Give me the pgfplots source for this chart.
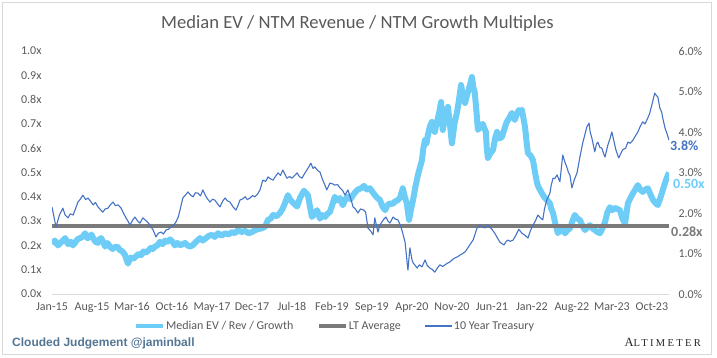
\documentclass[border=0pt]{standalone}
\usepackage{pgfplots}
\pgfplotsset{compat=1.18}
\usepackage{fontspec}
\setmainfont{Carlito}
\newfontfamily\footfont{Liberation Sans}
\newfontfamily\altfont[LetterSpace=22]{Liberation Serif}
\definecolor{lblue}{RGB}{110,205,246}
\definecolor{tblue}{RGB}{68,114,196}
\definecolor{ltgray}{RGB}{122,122,122}
\definecolor{txtgray}{RGB}{89,89,89}
\definecolor{linegray}{RGB}{217,217,217}
\definecolor{footblue}{RGB}{84,118,148}
\begin{document}
\begin{tikzpicture}
\useasboundingbox (0pt,0pt) rectangle (717pt,358pt);
\draw[linegray, line width=0.8pt] (2pt,4pt) rectangle (711pt,356pt);
\node[anchor=base, text=txtgray, font=\fontsize{18.6}{19}\selectfont, inner sep=0pt] at (357.5pt,329pt) {Median EV / NTM Revenue / NTM Growth Multiples};
\begin{axis}[
  at={(52pt,64pt)}, anchor=south west,
  scale only axis, width=617pt, height=243pt,
  xmin=0, xmax=108, ymin=0, ymax=1,
  axis x line*=bottom, axis y line*=left,
  x axis line style={draw=linegray, line width=0.8pt, -},
  y axis line style={draw=none},
  major tick length=0pt,
  xtick={0,7,14,21,28,35,42,49,56,63,70,77,84,91,98,105},
  xticklabels={Jan-15,Aug-15,Mar-16,Oct-16,May-17,Dec-17,Jul-18,Feb-19,Sep-19,Apr-20,Nov-20,Jun-21,Jan-22,Aug-22,Mar-23,Oct-23},
  ytick={0,0.1,0.2,0.3,0.4,0.5,0.6,0.7,0.8,0.9,1.0},
  yticklabel={\pgfmathprintnumber[fixed,fixed zerofill,precision=1]{\tick}x},
  /pgf/number format/assume math mode=true,
  tick label style={font=\fontsize{12}{12}\selectfont, text=txtgray},
  yticklabel style={xshift=-7pt},
  xticklabel style={yshift=-5pt},
]
\addplot[color=lblue, line width=6pt, line join=round] coordinates {
(0,0.206) (0.5,0.22) (1.05,0.20) (1.7,0.215) (2.3,0.23) (2.8,0.205) (3.3,0.215) (3.65,0.2) (4.0,0.21) (4.45,0.225) (4.9,0.23) (5.35,0.235) (5.8,0.25) (6.2,0.23) (6.65,0.235) (6.9,0.245) (7.2,0.23) (7.6,0.215) (8.05,0.21) (8.3,0.225) (8.6,0.23) (8.95,0.215) (9.3,0.195) (9.7,0.21) (10.15,0.195) (10.6,0.185) (11.0,0.193) (11.45,0.195) (11.9,0.18) (12.35,0.175) (12.8,0.16) (13.05,0.14) (13.3,0.125) (13.55,0.14) (13.8,0.15) (14.25,0.145) (14.7,0.155) (15.15,0.165) (15.6,0.16) (16.0,0.175) (16.45,0.17) (16.9,0.18) (17.3,0.19) (17.65,0.185) (18.0,0.195) (18.45,0.2) (18.9,0.215) (19.35,0.205) (19.8,0.22) (20.2,0.215) (20.65,0.225) (21.1,0.215) (21.5,0.20) (21.95,0.21) (22.4,0.20) (22.85,0.205) (23.3,0.21) (23.7,0.2) (24.15,0.195) (24.6,0.2) (25.0,0.21) (25.45,0.22) (25.9,0.23) (26.4,0.22) (26.95,0.23) (27.5,0.24) (28.0,0.243) (28.5,0.235) (29.05,0.25) (29.7,0.24) (30.3,0.25) (30.9,0.245) (31.5,0.255) (32.0,0.25) (32.55,0.263) (33.2,0.255) (33.8,0.26) (34.4,0.25) (35.0,0.255) (35.5,0.262) (36.05,0.267) (36.7,0.27) (37.3,0.277) (37.8,0.305) (38.25,0.31) (38.7,0.325) (39.3,0.32) (39.9,0.333) (40.35,0.35) (40.8,0.375) (41.3,0.407) (41.65,0.39) (42.0,0.38) (42.45,0.37) (42.9,0.36) (43.4,0.395) (43.75,0.41) (44.1,0.425) (44.45,0.415) (44.8,0.407) (45.15,0.36) (45.5,0.317) (45.95,0.33) (46.4,0.345) (46.9,0.31) (47.35,0.325) (47.8,0.317) (48.2,0.33) (48.65,0.338) (49.1,0.37) (49.5,0.40) (49.95,0.385) (50.4,0.395) (50.9,0.365) (51.35,0.39) (51.8,0.40) (52.25,0.39) (52.7,0.407) (53.1,0.42) (53.55,0.43) (54.1,0.435) (54.6,0.445) (55.1,0.43) (55.65,0.435) (56.1,0.42) (56.5,0.407) (56.95,0.395) (57.4,0.387) (57.85,0.36) (58.3,0.345) (58.7,0.365) (59.15,0.373) (59.6,0.37) (60.0,0.38) (60.45,0.385) (60.9,0.395) (61.4,0.435) (61.75,0.4) (62.1,0.373) (62.5,0.305) (62.85,0.35) (63.2,0.387) (63.6,0.44) (64.05,0.49) (64.4,0.52) (64.75,0.55) (65.0,0.6) (65.3,0.634) (65.55,0.62) (65.8,0.655) (66.15,0.69) (66.5,0.708) (66.75,0.68) (67.0,0.667) (67.3,0.7) (67.55,0.724) (67.8,0.75) (68.1,0.79) (68.25,0.72) (68.4,0.675) (68.85,0.73) (69.3,0.77) (69.65,0.7) (70.0,0.62) (70.45,0.7) (70.9,0.749) (71.25,0.8) (71.6,0.86) (71.95,0.81) (72.3,0.786) (72.55,0.81) (72.8,0.83) (73.15,0.86) (73.5,0.893) (73.75,0.85) (74.0,0.83) (74.3,0.75) (74.55,0.675) (75.0,0.69) (75.4,0.70) (75.7,0.68) (75.95,0.667) (76.1,0.6) (76.3,0.56) (76.75,0.58) (77.2,0.593) (77.55,0.64) (77.9,0.667) (78.3,0.64) (78.75,0.646) (79.2,0.68) (79.6,0.708) (80.05,0.725) (80.5,0.745) (80.75,0.73) (81.0,0.716) (81.35,0.74) (81.7,0.757) (82.0,0.745) (82.25,0.757) (82.55,0.72) (82.8,0.687) (83.05,0.63) (83.3,0.58) (83.75,0.57) (84.2,0.55) (84.55,0.5) (84.9,0.457) (85.15,0.44) (85.4,0.43) (85.85,0.41) (86.3,0.395) (86.7,0.385) (87.15,0.373) (87.4,0.35) (87.7,0.333) (88.1,0.29) (88.55,0.25) (88.9,0.265) (89.25,0.277) (89.5,0.26) (89.8,0.25) (90.2,0.262) (90.65,0.27) (91.1,0.3) (91.5,0.325) (91.95,0.31) (92.4,0.305) (92.85,0.28) (93.3,0.263) (93.7,0.275) (94.15,0.283) (94.6,0.27) (95.0,0.263) (95.45,0.255) (95.9,0.25) (96.35,0.27) (96.8,0.296) (97.2,0.335) (97.65,0.357) (98.1,0.345) (98.5,0.354) (98.95,0.35) (99.4,0.345) (99.85,0.31) (100.3,0.29) (100.55,0.33) (100.8,0.373) (101.25,0.395) (101.7,0.415) (102.1,0.43) (102.55,0.448) (102.95,0.43) (103.4,0.42) (103.85,0.43) (104.3,0.435) (104.75,0.41) (105.2,0.387) (105.6,0.375) (106.05,0.366) (106.4,0.39) (106.75,0.415) (107.2,0.45) (107.6,0.477) (108,0.50)
};
\addplot[color=ltgray, line width=4pt] coordinates {(0,0.28) (108,0.28)};
\end{axis}
\begin{axis}[
  at={(52pt,64pt)}, anchor=south west,
  scale only axis, width=617pt, height=243pt,
  xmin=0, xmax=108, ymin=0, ymax=6,
  axis x line=none, axis y line*=right,
  y axis line style={draw=none},
  major tick length=0pt,
  ytick={0,1,2,3,4,5,6},
  yticklabel={\pgfmathprintnumber[fixed,fixed zerofill,precision=1]{\tick}\%},
  /pgf/number format/assume math mode=true,
  tick label style={font=\fontsize{12}{12}\selectfont, text=txtgray},
  yticklabel style={anchor=west, xshift=6pt},
  legend columns=3,
  legend image code/.code={\draw[#1] (0pt,0pt) -- (27pt,0pt);},
  legend style={at={(0.128,-0.1317)}, anchor=west, draw=none, fill=none,
    font=\fontsize{12}{12}\selectfont, text=txtgray,
    /tikz/every odd column/.append style={column sep=-1pt},
    /tikz/every even column/.append style={column sep=22pt}},
]
\addlegendimage{color=lblue, line width=4pt}
\addlegendentry{Median EV / Rev / Growth}
\addlegendimage{color=ltgray, line width=3.5pt}
\addlegendentry{LT Average}
\addplot[color=tblue, line width=1.1pt, line join=round] coordinates {
(0,2.15) (0.35,1.9) (0.7,1.65) (1.3,1.95) (1.9,2.12) (2.3,1.95) (2.8,1.88) (3.2,1.98) (3.7,1.95) (4.1,2.1) (4.55,2.27) (5.0,2.35) (5.4,2.44) (5.9,2.33) (6.3,2.37) (6.8,2.28) (7.2,2.2) (7.6,2.26) (8.05,2.15) (8.5,2.08) (8.9,2.02) (9.3,2.1) (9.8,2.12) (10.2,2.2) (10.7,2.27) (11.1,2.18) (11.55,2.2) (12.1,2.12) (12.5,2.0) (12.95,1.88) (13.3,1.8) (13.65,1.7) (14.1,1.82) (14.5,1.9) (15.0,1.8) (15.4,1.75) (15.9,1.88) (16.3,1.83) (16.7,1.78) (17.15,1.7) (17.7,1.58) (18.2,1.41) (18.6,1.5) (19.1,1.53) (19.5,1.48) (19.95,1.58) (20.4,1.6) (20.8,1.65) (21.3,1.7) (21.7,1.78) (22.1,1.9) (22.4,2.07) (22.9,2.37) (23.4,2.45) (23.8,2.52) (24.2,2.45) (24.7,2.4) (25.1,2.5) (25.55,2.49) (26.0,2.42) (26.4,2.57) (26.8,2.45) (27.1,2.37) (27.65,2.27) (28.1,2.34) (28.5,2.32) (29.0,2.22) (29.4,2.15) (29.9,2.3) (30.3,2.37) (30.7,2.3) (31.15,2.27) (31.7,2.15) (32.2,2.07) (32.6,2.2) (32.9,2.32) (33.4,2.35) (33.8,2.4) (34.2,2.33) (34.65,2.37) (35.1,2.43) (35.5,2.4) (36.0,2.47) (36.4,2.57) (36.9,2.81) (37.4,2.78) (37.8,2.89) (38.3,2.84) (38.7,2.81) (39.1,2.9) (39.55,2.99) (40.0,2.93) (40.4,3.06) (40.8,2.95) (41.1,2.86) (41.6,2.9) (42.0,2.86) (42.5,2.93) (42.9,2.99) (43.3,2.9) (43.75,2.86) (44.2,2.97) (44.6,3.06) (45.0,3.15) (45.3,3.23) (45.7,3.1) (46.0,3.14) (46.5,3.05) (46.9,3.01) (47.4,2.81) (47.8,2.68) (48.1,2.57) (48.65,2.74) (49.1,2.72) (49.5,2.69) (50.0,2.7) (50.4,2.62) (50.9,2.55) (51.3,2.44) (51.8,2.57) (52.2,2.4) (52.7,2.15) (53.1,2.1) (53.55,2.0) (54.0,2.1) (54.6,2.07) (54.9,2.02) (55.3,1.63) (55.8,1.55) (56.2,1.46) (56.5,1.88) (57.05,1.53) (57.4,1.7) (57.75,1.78) (58.1,1.85) (58.45,1.9) (58.8,1.8) (59.15,1.75) (59.7,1.9) (60.1,1.85) (60.55,1.83) (60.9,1.72) (61.25,1.58) (61.8,1.28) (62.3,0.59) (62.65,1.14) (63.0,0.85) (63.2,0.77) (63.6,0.7) (63.9,0.64) (64.3,0.72) (64.75,0.67) (65.3,0.84) (65.7,0.7) (66.15,0.64) (66.6,0.6) (67.0,0.54) (67.5,0.65) (67.9,0.72) (68.4,0.68) (68.8,0.72) (69.2,0.76) (69.65,0.79) (70.1,0.85) (70.5,0.89) (71.0,0.92) (71.4,0.96) (71.9,1.0) (72.3,1.04) (72.8,1.14) (73.3,1.25) (73.7,1.33) (74.1,1.5) (74.4,1.63) (74.9,1.7) (75.3,1.66) (75.8,1.63) (76.2,1.7) (76.65,1.65) (77.1,1.58) (77.5,1.5) (77.9,1.4) (78.4,1.28) (78.7,1.25) (79.1,1.21) (79.5,1.3) (79.8,1.33) (80.2,1.3) (80.7,1.33) (81.2,1.45) (81.7,1.6) (82.25,1.5) (82.8,1.45) (83.3,1.38) (83.7,1.55) (84.2,1.7) (84.6,1.8) (85.05,1.95) (85.5,1.88) (85.9,1.83) (86.2,2.1) (86.6,2.32) (87.15,2.49) (87.4,2.7) (87.7,2.86) (88.0,2.85) (88.4,2.94) (88.9,2.77) (89.4,3.43) (89.8,3.25) (90.1,3.14) (90.4,3.0) (90.65,2.94) (91.0,2.62) (91.5,2.85) (91.9,2.99) (92.4,3.38) (92.9,3.73) (93.3,3.95) (93.6,4.12) (94.0,4.22) (94.2,4.0) (94.5,3.85) (94.8,3.65) (95.0,3.51) (95.3,3.7) (95.55,3.75) (95.9,3.62) (96.25,3.6) (96.6,3.45) (96.8,3.38) (97.3,3.68) (97.7,3.85) (98.0,4.0) (98.4,3.75) (98.7,3.56) (99.2,3.36) (99.6,3.48) (99.9,3.56) (100.4,3.6) (100.8,3.75) (101.2,3.72) (101.7,3.8) (102.1,3.9) (102.55,4.0) (103.0,4.15) (103.4,4.25) (103.8,4.2) (104.3,4.35) (104.6,4.45) (105.0,4.67) (105.5,4.96) (105.8,4.9) (106.05,4.86) (106.4,4.59) (106.7,4.5) (106.9,4.35) (107.3,4.1) (107.6,3.98) (108,3.8)
};
\addlegendentry{10 Year Treasury}
\end{axis}
\node[anchor=west, inner sep=0pt, text=tblue, font=\bfseries\fontsize{14}{14}\selectfont] at (670pt,212pt) {3.8\%};
\node[anchor=west, inner sep=0pt, text=lblue, font=\bfseries\fontsize{14}{14}\selectfont] at (673pt,174pt) {0.50x};
\node[anchor=west, inner sep=0pt, text=ltgray, font=\bfseries\fontsize{14}{14}\selectfont] at (671pt,126pt) {0.28x};
\node[anchor=base west, inner sep=0pt, text=footblue, font=\footfont\bfseries\fontsize{12}{12}\selectfont] at (12pt,11pt) {Clouded Judgement @jaminball};
\node[anchor=base east, inner sep=0pt, text=black!85] at (701pt,11pt) {\altfont\fontsize{12.5}{13}\selectfont A\fontsize{10.5}{13}\selectfont LTIMETER};
\end{tikzpicture}
\end{document}
